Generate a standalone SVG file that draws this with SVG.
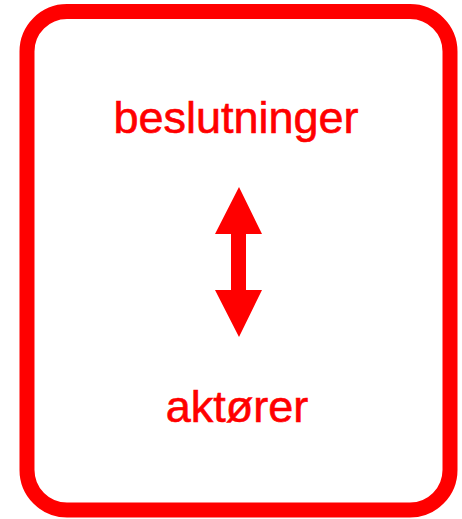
<svg xmlns="http://www.w3.org/2000/svg" width="462" height="519" viewBox="0 0 462 519">
<style>
.lbl{font-family:"Liberation Sans",Arial,sans-serif;font-size:45px;fill:#ff0000;stroke:#ff0000;stroke-width:0.6;text-anchor:middle}
</style>
<rect width="462" height="519" fill="#ffffff"/>
<g id="frame">
<rect x="27" y="11.5" width="423" height="498.5" rx="40" ry="40" fill="none" stroke="#ff0000" stroke-width="15"/>
</g>
<g id="node-beslutninger"><text class="lbl" x="236" y="133">beslutninger</text></g>
<g id="node-aktorer"><text class="lbl" x="237" y="422">aktører</text></g>
<g id="connectors">
<polygon fill="#ff0000" points="239,187 262,234 246,234 246,290 262,290 239,337 215,290 231,290 231,234 215,234"/>
</g>
</svg>
